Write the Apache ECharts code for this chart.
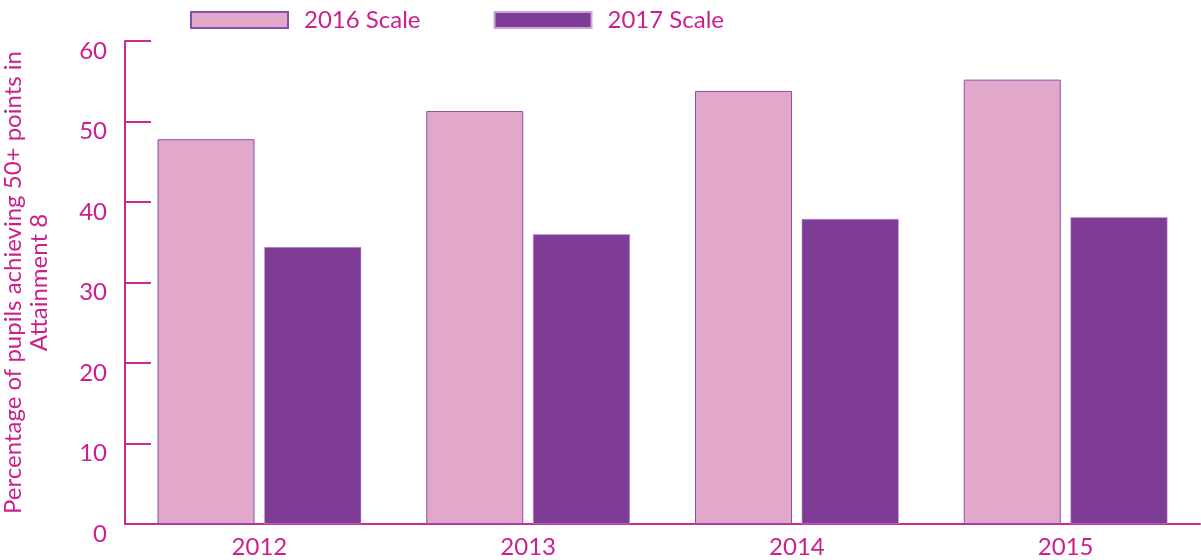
<!DOCTYPE html>
<html><head><meta charset="utf-8">
<script src="https://cdn.jsdelivr.net/npm/echarts@6/dist/echarts.min.js"></script>
<style>html,body{margin:0;padding:0;background:#fff}#c{width:1201px;height:560px}</style>
</head><body><div id="c"></div>
<script>
const categories = ['2012', '2013', '2014', '2015'];
const scale2016 = [47.8, 51.3, 53.8, 55.2];
const scale2017 = [34.4, 36.0, 37.9, 38.1];
const yTicks = [0, 10, 20, 30, 40, 50, 60];

const textColor = '#CC1F8A';
const axisColor = '#CC2A8E';
const font = 'Lato';
const chart = echarts.init(document.getElementById('c'));
chart.setOption({
  animation: false,
  textStyle: { fontFamily: font },
  legend: {
    top: 8, left: 190, padding: 0,
    icon: 'rect',
    itemWidth: 97, itemHeight: 16, itemGap: 73,
    textStyle: { color: textColor, fontSize: 24, fontFamily: font, padding: [0, 0, 0, 11] },
    data: ['2016 Scale', '2017 Scale']
  },
  grid: { left: 125, right: 1, top: 41, bottom: 36, containLabel: false, outerBoundsMode: 'none' },
  xAxis: {
    type: 'category', data: categories,
    axisLine: { lineStyle: { color: axisColor, width: 2 } },
    axisTick: { inside: true, length: 12, lineStyle: { color: axisColor, width: 2 } },
    axisLabel: { color: textColor, fontSize: 24, fontFamily: font, margin: 11 }
  },
  yAxis: {
    type: 'value', min: yTicks[0], max: yTicks[yTicks.length - 1], interval: 10,
    name: 'Percentage of pupils achieving 50+ points in\nAttainment 8',
    nameLocation: 'middle', nameGap: 73,
    nameTextStyle: { color: textColor, fontSize: 24, fontFamily: font, lineHeight: 26 },
    axisLine: { show: true, lineStyle: { color: axisColor, width: 2 } },
    axisTick: { show: true, inside: true, length: 26, lineStyle: { color: axisColor, width: 2 } },
    splitLine: { show: false },
    axisLabel: { color: textColor, fontSize: 24, fontFamily: font, margin: 18, verticalAlign: 'top', lineHeight: 20 }
  },
  series: [
    { name: '2016 Scale', type: 'bar', data: scale2016, barWidth: 97, barGap: '10%',
      itemStyle: { color: '#E2A8CA', borderColor: '#8A4FAE', borderWidth: 1 } },
    { name: '2017 Scale', type: 'bar', data: scale2017, barWidth: 97,
      itemStyle: { color: '#7E3C96', borderColor: '#C9A6D9', borderWidth: 0.5 } }
  ]
});
</script></body></html>
